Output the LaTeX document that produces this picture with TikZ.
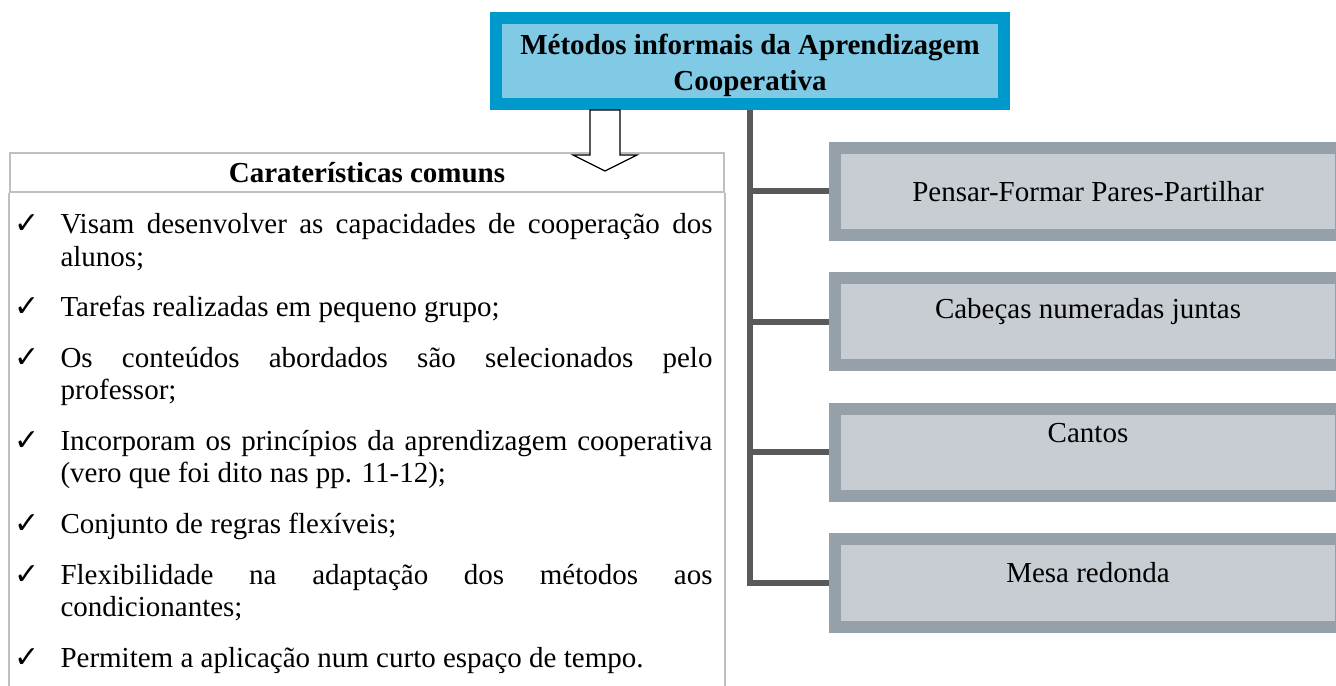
\documentclass[tikz,border=0pt]{standalone}
\usepackage{fontspec}
\setmainfont{Liberation Serif}
\newfontfamily\symfont{DejaVu Sans}
\usepackage{xcolor}
\definecolor{topblue}{RGB}{0,153,204}
\definecolor{topfill}{RGB}{128,202,230}
\definecolor{boxedge}{RGB}{149,160,169}
\definecolor{boxfill}{RGB}{200,205,212}
\definecolor{spinegray}{RGB}{88,89,91}
\definecolor{framegray}{RGB}{191,191,191}
\newcommand{\chk}{\char"2713}
\newcommand{\lift}[2]{\raisebox{#1}[\height][\depth]{#2}}

\tikzset{
  titlebox/.style={draw=topblue, fill=topfill, line width=4.8pt,
    minimum width=203.2pt, minimum height=34.4pt, inner sep=0pt,
    font=\fontsize{11.6}{14.4}\selectfont\bfseries},
  method/.style={draw=boxedge, fill=boxfill, line width=4.8pt,
    minimum width=202.4pt, minimum height=34.8pt, inner sep=0pt,
    font=\fontsize{11.6}{13}\selectfont},
  branch/.style={draw=spinegray, line width=2.4pt},
  hdrbox/.style={draw=framegray, line width=0.6pt, minimum width=285.6pt,
    minimum height=15.6pt, inner sep=0pt,
    font=\fontsize{11.6}{13}\selectfont\bfseries},
  listitem/.style={anchor=base west, inner sep=0pt, text width=260.8pt,
    align=justify, font=\fontsize{11.6}{13}\selectfont},
  tick/.style={anchor=base west, inner sep=0pt, font=\symfont\fontsize{12}{13}\selectfont},
  hollow/.style={draw=black, fill=white, line width=0.5pt, line join=miter}
}

\begin{document}
\begin{tikzpicture}[x=0.4pt, y=-0.4pt]
        % Page frame (pixels of the reference)
        \useasboundingbox (0,0) rectangle (1336,686);
        \clip (0,0) rectangle (1336,686);
        % Title
        \node[titlebox] (top) at (750,61) {\lift{-1.6pt}{\begin{tabular}{@{}c@{}}M\'etodos informais da Aprendizagem\\Cooperativa\end{tabular}}};
        % Left panel with the common features
        \node[hdrbox] (hdr) at (367,172.5) {Caraterísticas comuns};
        \draw[framegray, line width=0.6pt] (hdr.south west) -- ++(0,540);
        \draw[framegray, line width=0.6pt] (hdr.south east) -- ++(0,540);
        % Hollow arrow from the title down to the panel
        \draw[hollow] (590,110) -- (590,155) -- (573,155) -- (605,171)
            -- (637,155) -- (620,155) -- (620,110) -- cycle;
        \node[tick] (t1) at (14,234) {\chk};
        \node[listitem] (c1) at (60,234) {Visam desenvolver as capacidades de cooperação dos\linebreak alunos;};
        \node[tick] (t2) at (14,317) {\chk};
        \node[listitem] (c2) at (60,317) {Tarefas realizadas em pequeno grupo;};
        \node[tick] (t3) at (14,367.5) {\chk};
        \node[listitem] (c3) at (60,367.5) {Os conteúdos abordados são selecionados pelo\linebreak professor;};
        \node[tick] (t4) at (14,450.5) {\chk};
        \node[listitem] (c4) at (60,450.5) {Incorporam os princípios da aprendizagem cooperativa\linebreak (vero que foi dito nas pp. 11-12);};
        \node[tick] (t5) at (14,533.5) {\chk};
        \node[listitem] (c5) at (60,533.5) {Conjunto de regras flexíveis;};
        \node[tick] (t6) at (14,584) {\chk};
        \node[listitem] (c6) at (60,584) {Flexibilidade na adaptação dos métodos aos\linebreak condicionantes;};
        \node[tick] (t7) at (14,667) {\chk};
        \node[listitem] (c7) at (60,667) {Permitem a aplicação num curto espaço de tempo.};
        % Methods on the right
        \node[method] (m1) at (1088,191.5) {Pensar-Formar Pares-Partilhar};
        \node[method] (m2) at (1088,322) {\lift{4pt}{Cabeças numeradas juntas}};
        \node[method] (m3) at (1088,452.5) {\lift{7.6pt}{Cantos}};
        \node[method] (m4) at (1088,583) {\lift{4pt}{Mesa redonda}};
        % Spine and branches
        \draw[branch] (top.south) |- (m4.west);
        \foreach \m in {m1,m2,m3}
            \draw[branch] (top.south |- \m.west) -- (\m.west);
    \end{tikzpicture}
\end{document}
